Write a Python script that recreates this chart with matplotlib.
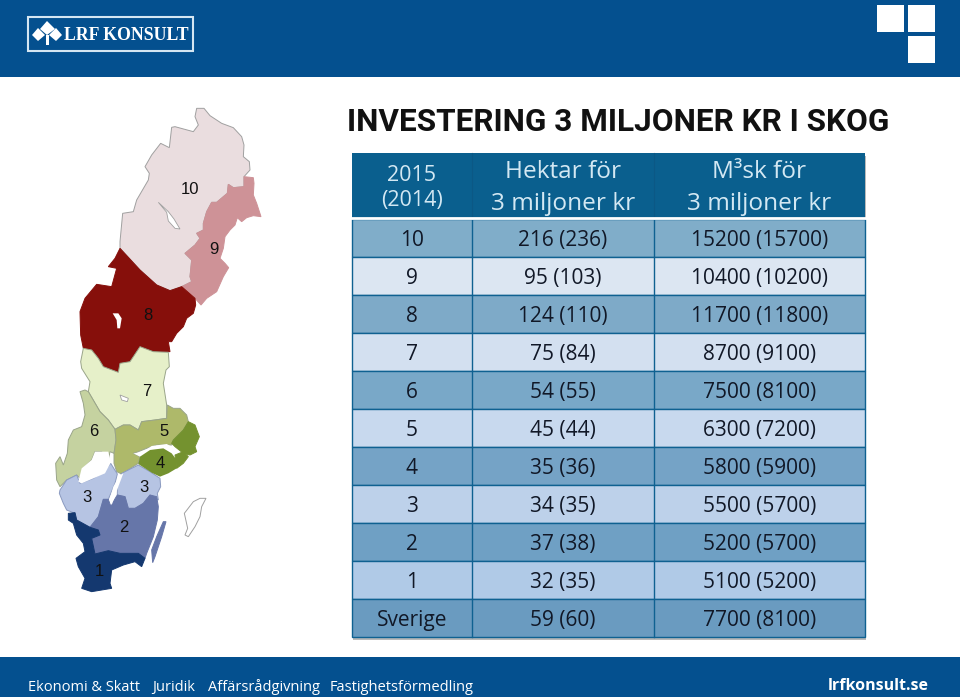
"""Slide: forest investment table with a map of Swedish price regions."""

import matplotlib
matplotlib.use("Agg")
import matplotlib.pyplot as plt
from matplotlib.patches import Polygon, Rectangle

# --- Data ---
regions = ["10", "9", "8", "7", "6", "5", "4", "3", "2", "1", "Sverige"]
hektar_2015 = [216, 95, 124, 75, 54, 45, 35, 34, 37, 32, 59]
hektar_2014 = [236, 103, 110, 84, 55, 44, 36, 35, 38, 35, 60]
m3sk_2015 = [15200, 10400, 11700, 8700, 7500, 6300, 5800, 5500, 5200, 5100, 7700]
m3sk_2014 = [15700, 10200, 11800, 9100, 8100, 7200, 5900, 5700, 5700, 5200, 8100]
header = ["2015\n(2014)", "Hektar för\n3 miljoner kr", "M³sk för\n3 miljoner kr"]
footer_items = ["Ekonomi & Skatt", "Juridik", "Affärsrådgivning", "Fastighetsförmedling"]

BANNER = "#04508F"
row_colors = ["#80ADC9", "#DCE6F2", "#7EAAC8", "#D3E0F0", "#79A8C8", "#C8D9EE",
              "#75A3C6", "#BDD1EA", "#6FA0C4", "#B0CAE7", "#6A9BC0"]

# map outlines, traced in 3x crops of the slide (north part / south part)
north = {
    "10": [(470,40),(492,40),(510,62),(545,85),(580,98),(605,125),(612,150),(610,185),(628,200),
           (630,225),(612,245),(612,275),(580,278),(565,268),(562,295),(530,322),(515,322),(500,350),
           (490,385),(490,405),(470,415),(480,430),(465,450),(435,475),(455,495),(450,545),(455,560),
           (425,575),(390,587),(350,570),(300,525),(240,460),(240,440),(248,355),(280,350),(290,315),
           (325,255),(328,235),(315,215),(335,180),(362,145),(388,158),(395,97),(405,95),(460,110),
           (475,90),(465,65)],
    "9": [(612,245),(640,248),(642,265),(640,300),(650,325),(663,365),(640,362),(620,368),(605,380),
          (592,368),(585,390),(570,405),(555,425),(550,460),(540,490),(555,505),(566,518),(550,545),
          (530,590),(500,610),(483,630),(465,610),(425,575),(455,560),(450,545),(455,495),(435,475),
          (465,450),(480,430),(470,415),(490,405),(490,385),(500,350),(515,322),(530,322),(562,295),
          (565,268),(580,278),(612,275)],
    "8": [(240,460),(300,525),(350,570),(390,587),(425,575),(465,610),(467,630),(460,655),(440,670),
          (430,695),(410,715),(395,740),(385,740),(390,770),(340,770),(300,755),(270,800),(240,805),
          (235,832),(190,815),(175,790),(155,765),(130,760),(122,720),(120,650),(135,610),(170,568),
          (215,575),(230,520),(205,515),(225,490)],
}
south = {
    "7": [(130,25),(155,30),(175,55),(190,80),(235,97),(240,70),(270,65),(300,20),(340,35),(385,37),
          (388,80),(378,90),(370,130),(380,195),(380,235),(345,240),(305,245),(295,270),(270,255),
          (250,255),(225,268),(205,240),(180,215),(145,155),(150,125),(125,85),(122,65)],
    "6": [(120,155),(135,150),(145,155),(180,215),(205,240),(225,268),(228,300),(222,340),(210,335),
          (205,360),(195,375),(185,335),(165,335),(155,360),(130,385),(120,415),(110,405),(80,420),
          (60,440),(50,420),(47,370),(60,350),(70,375),(82,340),(85,300),(100,270),(125,260),
          (135,225),(130,190)],
    "5": [(382,195),(400,205),(420,205),(440,225),(445,245),(430,270),(400,300),(395,315),(350,315),
          (320,325),(295,335),(280,340),(300,350),(295,370),(245,402),(230,395),(222,370),(222,340),
          (228,300),(225,268),(250,255),(270,255),(295,270),(305,245),(345,240),(380,235)],
    "4b": [(445,245),(465,255),(478,290),(465,320),(470,335),(450,345),(430,340),(405,320),(395,310),(400,300),(430,270)],
    "4c": [(405,345),(430,335),(445,350),(430,370),(410,385)],
    "3a": [(60,450),(80,420),(110,405),(120,430),(160,415),(190,395),(212,370),(232,402),(225,430),
           (205,478),(190,478),(175,530),(150,562),(110,540),(105,520),(80,510),(70,490),(58,460)],
    "3b": [(245,400),(295,375),(330,395),(360,415),(362,440),(352,460),(355,480),(330,465),(310,490),
           (285,505),(265,505),(255,470),(232,465),(232,440)],
    "2a": [(232,465),(255,470),(265,505),(285,505),(310,490),(330,465),(350,470),(355,500),(352,540),
           (340,590),(320,640),(315,655),(295,640),(240,640),(205,632),(165,642),(155,595),(180,585),
           (175,570),(150,562),(175,530),(190,478),(205,478),(212,498)],
    "2b": [(370,545),(378,545),(365,590),(345,650),(338,668),(335,630),(350,590)],
    "1": [(85,520),(105,518),(110,540),(150,562),(175,570),(180,585),(155,595),(165,642),(205,632),
          (240,640),(295,640),(315,655),(305,680),(285,665),(250,675),(215,690),(210,730),(215,745),
          (155,755),(125,745),(135,715),(115,680),(108,655),(135,635),(130,610),(110,585),(100,550),(85,540)],
}
# white water on top of the regions: Mälaren, Vänern, Vättern
south_water = [
    [(280,340),(305,338),(335,318),(380,312),(405,325),(400,345),(370,325),(330,330),(300,350)],
    [(165,335),(205,335),(212,368),(195,400),(160,415),(125,430),(115,425),(125,385),(155,360)],
    [(240,405),(250,400),(235,440),(215,495),(208,480),(220,440)],
]
south_top = {"4a": [(300,350),(330,330),(370,325),(395,340),(410,360),(410,385),(385,400),(360,410),(335,398),(295,372)]}
region_colors = {"10": "#EADDDF", "9": "#CE9297", "8": "#860F0B", "7": "#E6F0C9", "6": "#C5D2A0",
                 "5": "#AEB96A", "4": "#74922F", "3": "#B6C4E3", "2": "#6676A9", "1": "#14386F"}
map_labels = [("10", 190, 188), ("9", 214, 249), ("8", 148, 315), ("7", 147, 391), ("6", 94, 431),
              ("5", 164, 431), ("4", 160, 462), ("3", 87, 497), ("3", 144, 486), ("2", 124, 526),
              ("1", 99, 570)]

TITLE_FONT = "Roboto"
BODY_FONT = "Open Sans"

fig = plt.figure(figsize=(9.6, 6.97), dpi=100)
ax = fig.add_axes([0, 0, 1, 1])
ax.set_xlim(0, 960)
ax.set_ylim(697, 0)
ax.axis("off")


def n_pts(pts):
    return [(40 + x / 3, 95 + y / 3) for x, y in pts]


def s_pts(pts):
    return [(40 + x / 3, 340 + y / 3) for x, y in pts]


# --- Banners ---
ax.add_patch(Rectangle((0, 0), 960, 77, color=BANNER, lw=0))
ax.add_patch(Rectangle((0, 657), 960, 40, color=BANNER, lw=0))
ax.add_patch(Rectangle((28, 16.5), 165, 34, fill=False, ec="#D5E6F2", lw=1.5))
for pts in ([(47, 21), (55, 29), (47, 35), (40, 29)], [(38, 28), (45, 35), (38, 41), (32, 35)],
            [(56, 28), (62, 35), (56, 41), (49, 35)]):
    ax.add_patch(Polygon(pts, color="white", lw=0))
ax.add_patch(Rectangle((45.5, 35), 3, 10, color="white", lw=0))
ax.text(64, 35, "LRF KONSULT", color="white", family="Liberation Serif", weight="bold",
        fontsize=12.8, va="center", ha="left")
for x, y in [(877, 5), (908, 5), (908, 36)]:
    ax.add_patch(Rectangle((x, y), 27, 26.5, color="white", lw=0))

# --- Map ---
for key, pts in north.items():
    col = region_colors[key]
    ax.add_patch(Polygon(n_pts(pts), fc=col, ec="#A0A0A0" if key == "10" else col, lw=0.7))
for key, pts in south.items():
    col = region_colors[key.rstrip("abc")]
    edge = "#9AA58A" if key in ("7", "6", "5") else ("#8A9AC0" if key.startswith("3") else col)
    ax.add_patch(Polygon(s_pts(pts), fc=col, ec=edge, lw=0.7))
for pts in south_water:
    ax.add_patch(Polygon(s_pts(pts), fc="white", lw=0))
for key, pts in south_top.items():
    ax.add_patch(Polygon(s_pts(pts), fc=region_colors["4"], lw=0))
# lakes and Gotland
ax.add_patch(Polygon(n_pts([(218,655),(235,655),(245,670),(240,700),(232,700),(230,675)]), fc="white", lw=0))
ax.add_patch(Polygon(n_pts([(355,322),(385,350),(402,372),(420,402),(405,400),(385,378),(380,352)]),
                     fc="white", ec="#A0A0A0", lw=0.6))
ax.add_patch(Polygon(s_pts([(240,165),(265,175),(262,185),(245,180)]), fc="white", ec="#A0A0A0", lw=0.6))
ax.add_patch(Polygon(s_pts([(460,485),(480,475),(498,475),(485,500),(480,530),(465,560),(445,590),
                            (435,585),(443,565),(433,520)]), fc="white", ec="#A0A0A0", lw=0.7))
for label, x, y in map_labels:
    ax.text(x, y + 1, label, ha="center", va="center", fontsize=12, color="#111111",
            family="Liberation Sans")

# --- Title ---
ax.text(347, 122, "INVESTERING 3 MILJONER KR I SKOG", family=TITLE_FONT, weight="bold",
        fontsize=22.7, color="#111111", va="center", ha="left")

# --- Table ---
col_edges = [352, 472, 654, 865]
row_top, header_bottom, row_h = 153, 219, 38
table_w = col_edges[-1] - col_edges[0]
table_bottom = header_bottom + row_h * len(regions)
ax.add_patch(Rectangle((353, 156), table_w, table_bottom - 153, fc="#8C8C8C", alpha=0.6, lw=0))
ax.add_patch(Rectangle((352, row_top), table_w, header_bottom - row_top - 1, fc="#0A5F8E", lw=0))
col_centers = [(a + b) / 2 for a, b in zip(col_edges[:-1], col_edges[1:])]
for i, txt in enumerate(header):
    ax.text(col_centers[i], 188, txt, ha="center", va="center", color="#D3E8F3", family=BODY_FONT,
            fontsize=15.5 if i == 0 else 17.6, linespacing=1.2 if i == 0 else 1.4)
for x in col_edges[1:-1]:
    ax.plot([x, x], [row_top, header_bottom], color="#0B5885", lw=0.8)
for i, region in enumerate(regions):
    y = header_bottom + row_h * i
    ax.add_patch(Rectangle((352, y), table_w, row_h, fc=row_colors[i], ec="#0F6191", lw=1))
    cells = [region, f"{hektar_2015[i]} ({hektar_2014[i]})", f"{m3sk_2015[i]} ({m3sk_2014[i]})"]
    for cx, txt in zip(col_centers, cells):
        ax.text(cx, y + row_h / 2, txt, ha="center", va="center_baseline", color="#111827",
                family=BODY_FONT, fontsize=15)
for x in col_edges[1:-1]:
    ax.plot([x, x], [header_bottom, table_bottom], color="#0F6191", lw=1)
ax.plot([352, 865], [218, 218], color="white", lw=2)

# --- Footer ---
x_pos = [28, 152, 208, 330]
for x, txt in zip(x_pos, footer_items):
    ax.text(x, 691, txt, color="white", family=BODY_FONT, fontsize=10.5, va="baseline", ha="left")
ax.text(929, 690.5, "lrfkonsult.se", color="white", family=BODY_FONT, weight="bold", fontsize=11.5,
        va="baseline", ha="right")

fig.savefig("out.png", dpi=100, facecolor="white")
